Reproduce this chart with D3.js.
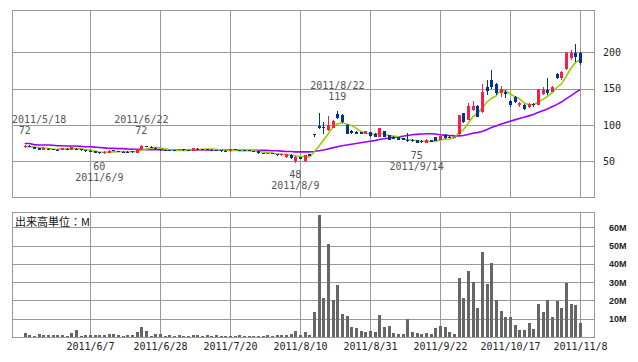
<!DOCTYPE html>
<html>
<head>
<meta charset="utf-8">
<script src="https://cdn.jsdelivr.net/npm/d3@7"></script>
<style>
body { margin: 0; background: #fff; }
</style>
</head>
<body>
<script>
var dates = ["5/18","5/19","5/20","5/23","5/24","5/25","5/26","5/27","5/30","5/31",
	"6/1","6/2","6/3","6/6","6/7","6/8","6/9","6/10","6/13","6/14",
	"6/15","6/16","6/17","6/20","6/21","6/22","6/23","6/24","6/27","6/28",
	"6/29","6/30","7/1","7/4","7/5","7/6","7/7","7/8","7/11","7/12",
	"7/13","7/14","7/15","7/19","7/20","7/21","7/22","7/25","7/26","7/27",
	"7/28","7/29","8/1","8/2","8/3","8/4","8/5","8/8","8/9","8/10",
	"8/11","8/12","8/15","8/16","8/17","8/18","8/19","8/22","8/23","8/24",
	"8/25","8/26","8/29","8/30","8/31","9/1","9/2","9/5","9/6","9/7",
	"9/8","9/9","9/12","9/13","9/14","9/15","9/16","9/20","9/21","9/22",
	"9/26","9/27","9/28","9/29","9/30","10/3","10/4","10/5","10/6","10/7",
	"10/11","10/12","10/13","10/14","10/17","10/18","10/19","10/20","10/21","10/24",
	"10/25","10/26","10/27","10/28","10/31","11/1","11/2","11/4","11/7","11/8"];

var opens = [69,71.5,69.5,68,65,67.5,66.5,66,65,67.5,
	66,67.5,67,65.5,64.5,63.5,62.5,61,61.5,65.5,
	63.5,63,63,64,62,66.5,70.5,70,68.5,67,
	65.5,65,65,66,66.5,65,64.5,67.5,67,66.5,
	66,65.5,65,64.5,63.5,67,65.5,65.5,65,64,
	63.5,61.5,60.5,61,60,58,56.5,59,50,56,
	50,59.5,87.5,99,97,93.5,96.5,115,114,100,
	92,90.5,90,88,90.5,88,84,91.5,86,84,
	83,81.5,80,80,79,78.5,75.5,79.5,83,80,
	86,84,82,88,116,107.5,120.5,126,118,152,
	162,157,144,146,133,138,128,127.5,125,128.5,
	128,143,148,146,170,164,176.5,191.5,198.5,198.5];

var highs = [72,72,70,68.5,69,68,67,66.5,68.5,68,
	69.5,68,67.5,66,65,64,63,63.5,65,66,
	64,63.5,63.5,64.5,67,72,71,70.5,69,67.5,
	66,65.5,65.5,67.5,67,65.5,68.5,68,67.5,67,
	66.5,66,65.5,65,67.5,67.5,66,66,65.5,64.5,
	64,62,62,61.5,60.5,60,60.5,59.5,57,56.5,
	59,60,87.5,117,104.5,113,107,119,115,101,
	93,91.5,91,92,91,88.5,96.5,92,86.5,84.5,
	83.5,82,88.5,80.5,79.5,79,80.5,80,84,85,
	87.5,85,85,114,117,130,133.5,128,157,162,
	175,158,153,148,135,140,132,129,130,130.5,
	150,152.5,164,154,172,174,200,203,212,200];

var lows = [68.5,69.5,67,65,65,66,65.5,65.5,65,66.5,
	65,66,64.5,63,62.5,61.5,60,60.5,61,64,
	62.5,62,62.5,62,61.5,66,69.5,69,66.5,64.5,
	64.5,63.5,64,65.5,64.5,64.5,64,66.5,66.5,66,
	65.5,65,63,63,63,65,65,64,64,63.5,
	60.5,60.5,60,59.5,57.5,57.5,55,53,48,52.5,
	49.5,57,83.5,94.5,87.5,92,95.5,108,103,87,
	88,87,87,87.5,84,83,83.5,83.5,79,80.5,
	79,79,77,77,75,75.5,75,76.5,78,79.5,
	81,81.5,81.5,86,103,107,119.5,110.5,117,141,
	150,141,139,137,125,130,125,120,124,125,
	127,141,141,145,163,162,175,189,187,183];

var closes = [71.5,70,67.5,65.5,68.5,66.5,66,66,68,67,
	69,66.5,65,63.5,63,62,61,63,64.5,64.5,
	63,62.5,63,62.5,66.5,71.5,70,69.5,67,65,
	65,64,64.5,67,65,65,68,67,67,66.5,
	66,65.5,63.5,63.5,67,65.5,65.5,64.5,64,64,
	61,61,61.5,60,58,59.5,60,54,56.5,53,
	58.5,57.5,87,95.5,96,99.5,106,109.5,104.5,87.5,
	89.5,87.5,87.5,91.5,84.5,83.5,96,84,79.5,81,
	79.5,79.5,79.5,77.5,75.5,76,80,77,78.5,84.5,
	81.5,82,84,113.5,104.5,126,126,111.5,146,147,
	152,143.5,150,142,127.5,132,130,121.5,128.5,127.5,
	149,148,143.5,152.5,165,172.5,198.5,198.5,194,185];

// 出来高 (M)
var volumes = [2.2,1.0,0.6,1.5,1.0,1.0,1.0,1.0,1.0,0.5,
	2.2,3.8,0.6,1.1,1.1,1.1,1.1,1.1,1.6,1.5,
	1.0,0.6,1.1,1.1,2.7,5.5,3.3,0.8,1.6,1.5,
	0.6,1.0,0.8,1.0,0.6,0.6,1.1,1.1,0.6,1.1,
	0.8,1.1,0.6,0.6,0.6,0.6,1.1,0.8,0.6,0.6,
	0.8,0.6,1.1,0.8,1.1,1.1,1.1,1.6,3.4,1.1,
	2.6,1.1,13.5,66.5,21.6,50.8,20.0,28.6,12.4,11.4,
	5.4,4.9,3.2,2.7,3.2,2.7,11.9,5.4,5.9,2.2,
	1.6,1.6,9.7,2.7,2.2,1.6,2.2,1.6,4.9,5.9,
	5.4,2.7,1.6,32.4,21.1,36.2,30.3,15.7,46.5,29.2,
	40.5,20.5,14.1,10.8,10.8,6.5,3.8,3.8,7.6,4.3,
	17.8,13.5,20.0,10.8,19.6,15.7,29.4,17.8,17.3,7.6];

var maShort = [70.5,70,69.5,69,68.6,67.6,66.8,66.5,67,66.7,
	67.2,67.3,67.1,66.2,65.4,64,62.9,62.5,62.7,63,
	63.2,63.5,63.5,63.1,63.5,65.2,66.7,68,68.9,68.6,
	67.3,66.1,65.1,65.1,65.1,65.1,65.9,66.4,66.4,66.7,
	66.9,66.4,65.7,65,65.1,65,65,65.2,65.3,64.7,
	63.8,62.9,62.3,61.5,60.3,60,59.8,58.3,57.6,56.6,
	56.4,55.9,62.5,70.3,78.9,87.1,96.8,101.3,103.1,101.4,
	99.4,95.7,91.3,88.7,88.1,86.9,88.6,87.9,85.5,84.8,
	84,80.7,79.8,79.4,78.3,77.6,77.7,77.2,77.4,79.2,
	80.3,80.7,82.1,89.1,93.1,102,110.8,116.3,122.8,131.3,
	136.5,140,147.7,146.9,143,139,136.3,130.6,127.9,127.9,
	131.3,134.9,139.3,144.1,151.6,156.3,166.4,177.4,185.7,189.7];

var maLong = [74.5,74.5,73,72.5,72.5,72.5,72,71.5,71.5,71,
	71,71,70.5,70,70,69.5,69,68.5,68,68,
	67.5,67.5,67,66.5,66.5,66.5,66,66,66,66,
	65.5,65.5,65.5,65.5,65.5,65.5,65.5,65.5,65.5,65.5,
	65.5,65.5,65.5,65.5,65.5,65.5,65,65,65,65,
	65,65,65,64.5,64.5,64,63.5,63.5,63,63,
	63,63,63.5,64.5,65.5,67,68.5,70,71.5,72.5,
	73.5,74.5,75.5,76.5,77.5,78.5,80,81,82,83,
	83.5,84.5,85.5,86.5,87,87.5,88,88,87.5,86.5,
	86,85.5,85,85,85.5,87,88.5,89.5,91,93.5,
	96.5,98.5,101,103,105,107,109,110.5,112.5,114.5,
	117,119.5,122,125,128,131.5,136,140,144.5,148.5];

var gridDates = ["6/7","6/28","7/20","8/10","8/31","9/22","10/17","11/8"];
var priceTicks = [50, 100, 150, 200];
var volumeTicks = [10, 20, 30, 40, 50, 60];

var marks = [
	{date: "5/18", value: 72, kind: "high"},
	{date: "6/9", value: 60, kind: "low"},
	{date: "6/22", value: 72, kind: "high"},
	{date: "8/9", value: 48, kind: "low"},
	{date: "8/22", value: 119, kind: "high"},
	{date: "9/14", value: 75, kind: "low"}
];

var w = 638;
var h = 362;
var left = 12, right = 594;
var pTop = 10, pBottom = 197;
var vTop = 212, vBottom = 337;
var gridColor = "#999";
var mono = "DejaVu Sans Mono, monospace";

var svg = d3.select("body")
	.append("svg")
	.attr("width", w)
	.attr("height", h);

var x = d3.scalePoint()
	.domain(dates)
	.range([24.7, 580]);

var yP = d3.scaleLinear()
	.domain([50, 200])
	.range([161.3, 52.3]);

var yV = d3.scaleLinear()
	.domain([0, 60])
	.range([vBottom, 227.3]);

function px(d) { return Math.round(x(d)) + 0.5; }

// grids
var grid = svg.append("g")
	.attr("stroke", gridColor)
	.attr("stroke-width", 1)
	.attr("shape-rendering", "crispEdges");

grid.selectAll("line.pv")
	.data(gridDates)
	.enter()
	.append("line")
	.attr("x1", function(d) { return px(d); })
	.attr("x2", function(d) { return px(d); })
	.attr("y1", pTop)
	.attr("y2", pBottom);

grid.selectAll("line.vv")
	.data(gridDates)
	.enter()
	.append("line")
	.attr("x1", function(d) { return px(d); })
	.attr("x2", function(d) { return px(d); })
	.attr("y1", vTop)
	.attr("y2", vBottom);

grid.selectAll("line.ph")
	.data(priceTicks)
	.enter()
	.append("line")
	.attr("x1", left)
	.attr("x2", right)
	.attr("y1", function(d) { return Math.round(yP(d)) + 0.5; })
	.attr("y2", function(d) { return Math.round(yP(d)) + 0.5; });

grid.selectAll("line.vh")
	.data(volumeTicks)
	.enter()
	.append("line")
	.attr("x1", left)
	.attr("x2", right)
	.attr("y1", function(d) { return Math.round(yV(d)) + 0.5; })
	.attr("y2", function(d) { return Math.round(yV(d)) + 0.5; });

// frames
svg.append("rect")
	.attr("x", left + 0.5).attr("y", pTop + 0.5)
	.attr("width", right - left).attr("height", pBottom - pTop)
	.attr("fill", "none").attr("stroke", gridColor)
	.attr("shape-rendering", "crispEdges");

svg.append("rect")
	.attr("x", left + 0.5).attr("y", vTop + 0.5)
	.attr("width", right - left).attr("height", vBottom - vTop)
	.attr("fill", "none").attr("stroke", gridColor)
	.attr("shape-rendering", "crispEdges");

// volume bars
svg.append("g")
	.selectAll("rect")
	.data(volumes)
	.enter()
	.append("rect")
	.attr("x", function(d, i) { return Math.round(x(dates[i])) - 1; })
	.attr("y", function(d) { return Math.round(yV(d)); })
	.attr("width", 3)
	.attr("height", function(d) { return vBottom - Math.round(yV(d)); })
	.attr("fill", "#666")
	.attr("shape-rendering", "crispEdges");

// moving averages
var line = function(arr) {
	return d3.line()
		.x(function(d, i) { return x(dates[i]); })
		.y(function(d) { return yP(d); })(arr);
};

svg.append("path")
	.attr("d", line(maLong))
	.attr("fill", "none")
	.attr("stroke", "#9900ff")
	.attr("stroke-width", 1.6);

svg.append("path")
	.attr("d", line(maShort))
	.attr("fill", "none")
	.attr("stroke", "#99cc00")
	.attr("stroke-width", 1.6);

// candles
var candles = svg.append("g").attr("shape-rendering", "crispEdges");
var up = "#ff1a4a", down = "#003399";

candles.selectAll("line")
	.data(dates)
	.enter()
	.append("line")
	.attr("x1", function(d) { return px(d); })
	.attr("x2", function(d) { return px(d); })
	.attr("y1", function(d, i) { return yP(highs[i]); })
	.attr("y2", function(d, i) { return yP(lows[i]); })
	.attr("stroke", function(d, i) { return closes[i] > opens[i] ? up : down; })
	.attr("stroke-width", 1);

candles.selectAll("rect")
	.data(dates)
	.enter()
	.append("rect")
	.attr("x", function(d) { return Math.round(x(d)) - 1; })
	.attr("y", function(d, i) { return Math.round(yP(Math.max(opens[i], closes[i]))); })
	.attr("width", 3)
	.attr("height", function(d, i) {
		return Math.max(1, Math.round(yP(Math.min(opens[i], closes[i]))) - Math.round(yP(Math.max(opens[i], closes[i]))));
	})
	.attr("fill", function(d, i) { return closes[i] > opens[i] ? up : down; });

// high / low notes
var notes = svg.append("g")
	.attr("font-family", mono)
	.attr("font-size", "10px")
	.attr("fill", "#555");

marks.forEach(function(m) {
	var cx = x(m.date);
	var y0 = yP(m.value);
	var dateY = m.kind == "high" ? y0 - 25.5 : y0 + 23;
	var valY = m.kind == "high" ? y0 - 14.8 : y0 + 12;
	var t = notes.append("text")
		.text("2011/" + m.date)
		.attr("x", cx)
		.attr("y", dateY)
		.attr("dy", "0.35em")
		.attr("text-anchor", "middle");
	var tw = t.node().getComputedTextLength();
	if (cx - tw / 2 < left) t.attr("x", left + tw / 2);
	notes.append("text")
		.text(m.value)
		.attr("x", cx)
		.attr("y", valY)
		.attr("dy", "0.35em")
		.attr("text-anchor", "middle");
});

// axes
var pAxis = svg.append("g")
	.attr("transform", "translate(598,0)")
	.call(d3.axisRight(yP).tickValues(priceTicks).tickSize(0).tickPadding(5));
pAxis.select(".domain").remove();
pAxis.selectAll("text")
	.attr("font-family", mono)
	.attr("font-size", "10px")
	.attr("fill", "#222");

var vAxis = svg.append("g")
	.attr("transform", "translate(604,0)")
	.call(d3.axisRight(yV).tickValues(volumeTicks).tickSize(0).tickPadding(5)
		.tickFormat(function(d) { return d + "M"; }));
vAxis.select(".domain").remove();
vAxis.selectAll("text")
	.attr("font-family", "Liberation Sans, Arial, sans-serif")
	.attr("font-weight", "bold")
	.attr("font-size", "9px")
	.attr("fill", "#222");

var xAxis = svg.append("g")
	.attr("transform", "translate(0," + vBottom + ")")
	.call(d3.axisBottom(x).tickValues(gridDates).tickSize(0).tickPadding(6)
		.tickFormat(function(d) { return "2011/" + d; }));
xAxis.select(".domain").remove();
xAxis.selectAll("text")
	.attr("font-family", mono)
	.attr("font-size", "10px")
	.attr("fill", "#222");

svg.append("text")
	.text("出来高単位：M")
	.attr("x", 15)
	.attr("y", 222)
	.attr("dy", "0.35em")
	.attr("font-family", "Noto Sans CJK JP")
	.attr("font-size", "11px")
	.attr("fill", "#111");
</script>
</body>
</html>
